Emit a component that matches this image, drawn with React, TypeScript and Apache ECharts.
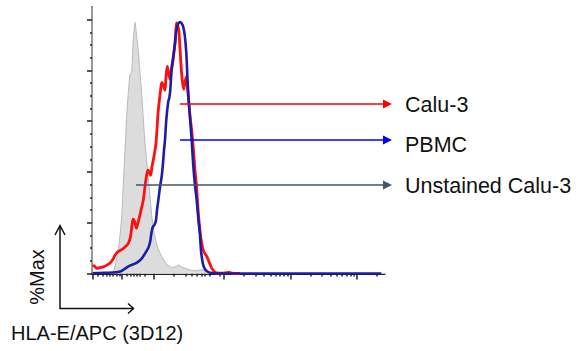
import React, { useEffect, useRef } from "react";
import * as echarts from "echarts";

// x values are display channels (0..1024 on the biexponential HLA-E/APC scale), y values are % of max
const grayChannel = [70, 77, 84, 92, 98, 104, 108.5, 115.5, 121.5, 127, 133, 139, 143.5, 150.5, 156.5, 162, 168, 174, 179.5, 185.5, 191.5, 197, 203, 209, 214.5, 220.5, 231, 244, 255.5, 267, 279, 290.5, 302, 315, 331.5, 346.5, 360.5, 384, 401.5, 420, 448];
const grayPct = [0.1, 1.3, 4.5, 9.2, 15.1, 22.2, 32.8, 48.5, 62.3, 71, 78.5, 79.3, 89.9, 98.9, 93.4, 87.9, 79.3, 71, 61.1, 51.3, 44.6, 37.5, 30.8, 23, 17.8, 14.3, 9.9, 6.8, 4.5, 3.3, 2.3, 2.7, 3.3, 2.5, 1.9, 1.3, 1.1, 1.5, 0.7, 0.3, 0.1];

const redChannel = [2, 7, 16.5, 28, 39.5, 52.5, 63, 73.5, 80.5, 91, 104, 115.5, 127, 135, 140, 143.5, 149, 155.5, 162.5, 171.5, 179.5, 187, 192.5, 197, 202, 205.5, 210, 214.5, 224, 232, 240, 244, 248.5, 255.5, 259.5, 263.5, 268, 273, 278, 282.5, 287, 290.5, 296.5, 301, 304.5, 310.5, 316, 321, 325.5, 329, 332.5, 337, 343, 349, 354.5, 360.5, 366, 372, 378, 384, 389.5, 395.5, 401.5, 407, 413, 419, 427, 436.5, 455, 469, 479.5, 490, 518];
const redPct = [2.9, 3.1, 2.0, 2.3, 2.6, 3.3, 4.1, 5.6, 7.2, 8.6, 9.4, 10.4, 11.9, 14.7, 19, 21.4, 20.6, 17.8, 20.6, 24.9, 28.9, 35.6, 39.5, 40.7, 39.5, 38.7, 42.2, 44.6, 51.3, 64.3, 72.2, 75.3, 74.5, 72.2, 78.1, 81.6, 79.3, 76.5, 80, 82.8, 87.1, 90.7, 98.7, 97.4, 95.4, 84, 76.1, 72.6, 75.3, 77.3, 75.3, 69.8, 62.3, 56.4, 49.7, 40.7, 34.4, 24.1, 17, 11.9, 9.2, 7.8, 6.8, 5.4, 3.7, 2.1, 0.9, 0.2, 0.1, 0.3, 0.5, 0.1, 0];

const blueChannel = [2, 28, 52.5, 73.5, 91, 105, 115.5, 126, 136.5, 150.5, 161, 171.5, 182, 190.5, 197.5, 204, 208, 212.5, 219, 224, 227.5, 233, 238, 244, 248.5, 252, 255.5, 260, 267, 271, 274.5, 279, 282.5, 285, 290.5, 296, 301, 308, 313, 317.5, 322, 325.5, 329, 331.5, 334, 337, 343, 349, 354.5, 360.5, 366.5, 372, 378, 381.5, 385, 389.5, 395.5, 402.5, 413, 430.5, 483, 1013];
const bluePct = [0.1, 0.2, 0.3, 0.4, 0.6, 1.1, 1.9, 2.7, 3.3, 3.9, 4.6, 5.6, 7.2, 8.8, 10.2, 12.7, 15.9, 18.2, 19.2, 21, 24.9, 29.6, 34, 38.3, 43.4, 48.5, 52.5, 60.4, 67.8, 69.4, 72.9, 81.2, 84, 85.9, 90.7, 96.2, 98.2, 99.1, 98.7, 97.8, 95.8, 93, 88.7, 84, 77.3, 71, 61.5, 52.5, 42.6, 34.8, 28.9, 21.8, 15.1, 9.2, 6, 3.3, 1.7, 0.9, 0.3, 0.1, 0, 0];

const xMajorTicks = [4, 103, 217, 462, 695, 927];
const xMinorTicks = [21, 38.5, 51.5, 63, 73.5, 85, 96, 120, 135.5, 147, 157.5, 168, 185.5, 284.5, 329, 349, 366.5, 384, 395.5, 413, 448, 532, 573, 602, 625, 643, 659, 672, 684, 765, 806, 835, 857, 875.5, 891, 904.5, 916, 997];
const yMajorTicks = [0, 20, 40, 60, 80, 100];
const yMinorTicks = [5, 10, 15, 25, 30, 35, 45, 50, 55, 65, 70, 75, 85, 90, 95];

const legendNames = ["Calu-3", "PBMC", "Unstained Calu-3"];
const xTitle = "HLA-E/APC (3D12)";
const yTitle = "%Max";

const FONT = '"Liberation Sans", Arial, sans-serif';

function zip(xs: number[], ys: number[]) {
  const n = Math.min(xs.length, ys.length);
  const out: number[][] = [];
  for (let i = 0; i < n; i++) out.push([xs[i], ys[i]]);
  return out;
}

export default function App() {
  const ref = useRef<HTMLDivElement>(null);
  useEffect(() => {
    document.body.style.margin = "0";
    const chart = echarts.init(ref.current!, null, { renderer: "svg" });
    const axisColor = "#222";
    const hiddenAxis = {
      axisLabel: { show: false },
      splitLine: { show: false },
    };
    const arrow = (y: number, x0: number, color: string) => [
      { type: "line", shape: { x1: x0, y1: y, x2: 385, y2: y }, style: { stroke: color, lineWidth: 1.5 }, z: 10 },
      { type: "polygon", shape: { points: [[383, y - 4.5], [392, y], [383, y + 4.5]] }, style: { fill: color }, z: 10 },
    ];
    chart.setOption({
      animation: false,
      backgroundColor: "#fff",
      grid: { left: 92, top: 7, right: 191.5, bottom: 77.5, containLabel: false },
      xAxis: [
        {
          type: "value", position: "bottom", min: 0, max: 1024,
          axisLine: { show: true, lineStyle: { color: axisColor, width: 2 } },
          axisTick: { show: true, customValues: xMajorTicks, length: 6, lineStyle: { color: axisColor, width: 1.5 } },
          ...hiddenAxis,
        },
        {
          type: "value", position: "bottom", min: 0, max: 1024,
          axisLine: { show: false },
          axisTick: { show: true, customValues: xMinorTicks, length: 3, lineStyle: { color: axisColor, width: 1.5 } },
          ...hiddenAxis,
        },
        {
          type: "value", position: "top", min: 0, max: 1024,
          axisLine: { show: true, lineStyle: { color: "#c4c4c4", width: 1 } },
          axisTick: { show: false },
          ...hiddenAxis,
        },
      ],
      yAxis: [
        {
          type: "value", position: "left", min: 0, max: 105,
          axisLine: { show: true, lineStyle: { color: axisColor, width: 2 } },
          axisTick: { show: true, customValues: yMajorTicks, length: 5, lineStyle: { color: axisColor, width: 1.5 } },
          ...hiddenAxis,
        },
        {
          type: "value", position: "left", min: 0, max: 105,
          axisLine: { show: false },
          axisTick: { show: true, customValues: yMinorTicks, length: 2, lineStyle: { color: axisColor, width: 1.5 } },
          ...hiddenAxis,
        },
        {
          type: "value", position: "right", min: 0, max: 105,
          axisLine: { show: true, lineStyle: { color: "#999", width: 2 } },
          axisTick: { show: false },
          ...hiddenAxis,
        },
      ],
      series: [
        {
          type: "line", name: legendNames[2], xAxisIndex: 0, yAxisIndex: 0,
          data: zip(grayChannel, grayPct), showSymbol: false, smooth: 0.2,
          lineStyle: { color: "#b8b8b8", width: 1 },
          areaStyle: { color: "#dcdcdc", opacity: 1 },
          z: 2,
        },
        {
          type: "line", name: legendNames[0], xAxisIndex: 0, yAxisIndex: 0,
          data: zip(redChannel, redPct), showSymbol: false, smooth: 0.25,
          lineStyle: { color: "#ff1010", width: 2.8 },
          z: 3,
        },
        {
          type: "line", name: legendNames[1], xAxisIndex: 0, yAxisIndex: 0,
          data: zip(blueChannel, bluePct), showSymbol: false, smooth: 0.25,
          lineStyle: { color: "#1c1ca8", width: 2.6 },
          z: 4,
        },
      ],
      graphic: [
        ...arrow(104, 180, "#ff0000"),
        ...arrow(140, 180, "#0000ff"),
        ...arrow(185, 136, "#44546a"),
        { type: "text", x: 405, y: 105, style: { text: legendNames[0], fontSize: 21.5, fontFamily: FONT, fill: "#111", align: "left", verticalAlign: "middle" }, z: 10 },
        { type: "text", x: 405, y: 144.5, style: { text: legendNames[1], fontSize: 21.5, fontFamily: FONT, fill: "#111", align: "left", verticalAlign: "middle" }, z: 10 },
        { type: "text", x: 405, y: 186, style: { text: legendNames[2], fontSize: 21.5, fontFamily: FONT, fill: "#111", align: "left", verticalAlign: "middle" }, z: 10 },
        { type: "polyline", shape: { points: [[60, 226], [60, 308.5], [133, 308.5]] }, style: { stroke: "#111", lineWidth: 1.5, fill: null }, z: 10 },
        { type: "polyline", shape: { points: [[55, 235], [60, 225.5], [65, 235]] }, style: { stroke: "#111", lineWidth: 1.5, fill: null }, z: 10 },
        { type: "polyline", shape: { points: [[128, 303.5], [133.5, 308.5], [128, 313.5]] }, style: { stroke: "#111", lineWidth: 1.5, fill: null }, z: 10 },
        { type: "text", x: 37, y: 277, rotation: Math.PI / 2, style: { text: yTitle, fontSize: 20, fontFamily: FONT, fill: "#111", align: "center", verticalAlign: "middle" }, z: 10 },
        { type: "text", x: 11, y: 333, style: { text: xTitle, fontSize: 20, fontFamily: FONT, fill: "#111", align: "left", verticalAlign: "middle" }, z: 10 },
      ],
    });
    return () => chart.dispose();
  }, []);
  return <div ref={ref} style={{ position: "fixed", left: 0, top: 0, width: 576, height: 351 }} />;
}
